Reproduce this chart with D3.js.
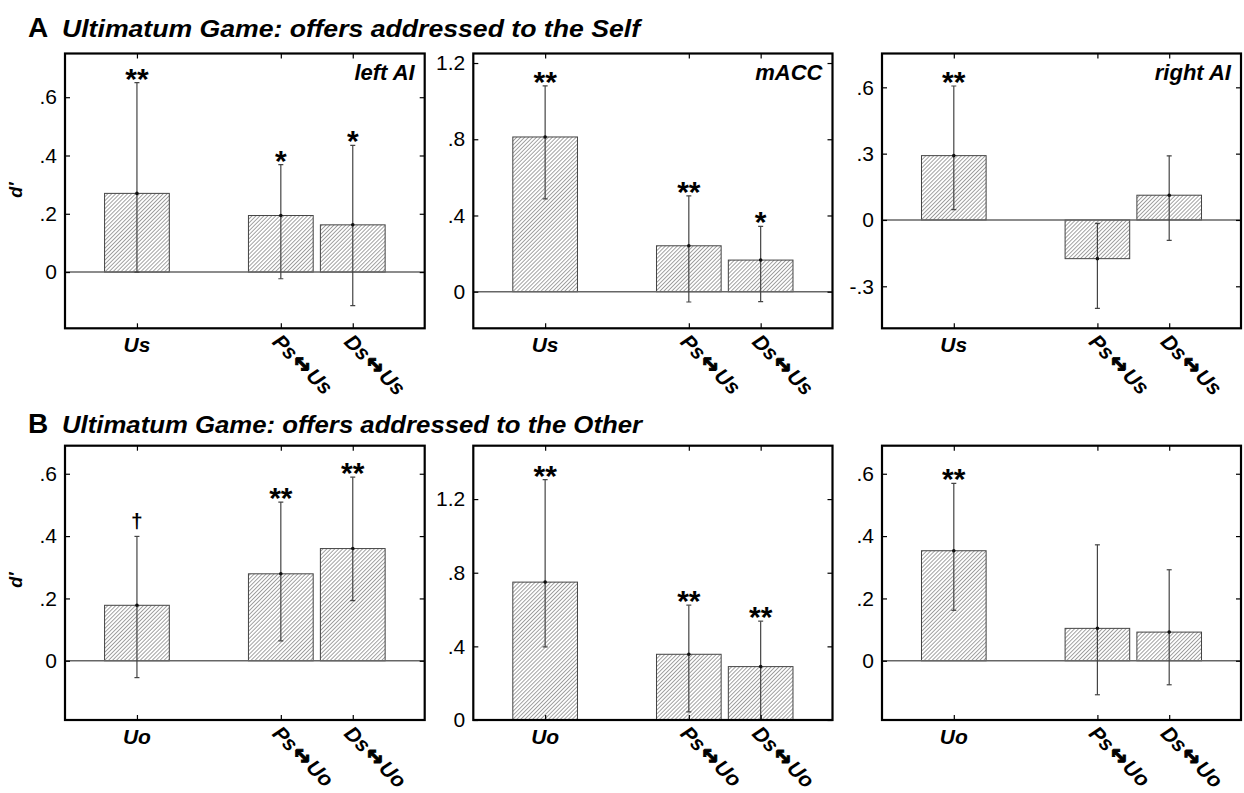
<!DOCTYPE html>
<html>
<head>
<meta charset="utf-8">
<script src="https://cdn.jsdelivr.net/npm/d3@7"></script>
<style>
  html, body { margin: 0; padding: 0; background: #fff; }
  svg { display: block; }
  text { font-family: Arial, "Liberation Sans", sans-serif; fill: #000; }
</style>
</head>
<body>
<svg id="chart" width="1244" height="793"></svg>
<script>
// ---- data ----
const regions = ["left AI", "mACC", "right AI"];
const catsSelf = ["Us", "Ps\u2194Us", "Ds\u2194Us"];
const catsOther = ["Uo", "Ps\u2194Uo", "Ds\u2194Uo"];
const catSlots = [1, 3, 4];

const selfMean = [[0.27, 0.194, 0.162], [0.812, 0.241, 0.166], [0.291, -0.175, 0.112]];
const selfLo   = [[0.0, -0.023, -0.115], [0.487, -0.054, -0.052], [0.047, -0.40, -0.092]];
const selfHi   = [[0.65, 0.369, 0.435], [1.08, 0.503, 0.343], [0.606, -0.015, 0.29]];
const selfSig  = [["**", "*", "*"], ["**", "**", "*"], ["**", "", ""]];

const otherMean = [[0.178, 0.279, 0.360], [0.749, 0.357, 0.29], [0.353, 0.104, 0.092]];
const otherLo   = [[-0.054, 0.064, 0.193], [0.397, 0.044, 0.0], [0.162, -0.109, -0.077]];
const otherHi   = [[0.399, 0.509, 0.589], [1.306, 0.624, 0.537], [0.569, 0.372, 0.292]];
const otherSig  = [["\u2020", "**", "**"], ["**", "**", "**"], ["**", "", ""]];

const selfLimits  = [[-0.193, 0.75], [-0.192, 1.25], [-0.49, 0.753]];
const otherLimits = [[-0.19, 0.69], [0, 1.49], [-0.19, 0.69]];
const selfTicks  = [[0, 0.2, 0.4, 0.6], [0, 0.4, 0.8, 1.2], [-0.3, 0, 0.3, 0.6]];
const otherTicks = [[0, 0.2, 0.4, 0.6], [0, 0.4, 0.8, 1.2], [0, 0.2, 0.4, 0.6]];

const rowTitles = ["Ultimatum Game: offers addressed to the Self", "Ultimatum Game: offers addressed to the Other"];
const rowLetters = ["A", "B"];

// ---- layout ----
const svg = d3.select("#chart");
const colX = [[65, 424.7], [473.3, 832.5], [882, 1241]];
const rowY = [[53.5, 328.3], [445.7, 720]];
const titleBase = [37, 433];
const titleWidth = [578, 580];

// hatch fill for the bars
const defs = svg.append("defs");
const pat = defs.append("pattern")
  .attr("id", "hatch").attr("patternUnits", "userSpaceOnUse")
  .attr("width", 2.8).attr("height", 2.8)
  .attr("patternTransform", "rotate(45)");
pat.append("rect").attr("width", 2.8).attr("height", 2.8).attr("fill", "#fff");
pat.append("line").attr("x1", 0).attr("y1", 0).attr("x2", 0).attr("y2", 2.8)
  .attr("stroke", "#666").attr("stroke-width", 1.2);

// axis numbers drop the leading zero: ".6", "-.3", "1.2"
const fmt = v => {
  if (v === 0) return "0";
  const s = String(+v.toFixed(2));
  return s.replace(/^(-?)0\./, "$1.");
};

const rows = [
  { cats: catsSelf, mean: selfMean, lo: selfLo, hi: selfHi, sig: selfSig, lim: selfLimits, ticks: selfTicks },
  { cats: catsOther, mean: otherMean, lo: otherLo, hi: otherHi, sig: otherSig, lim: otherLimits, ticks: otherTicks }
];

rows.forEach((row, r) => {
  // row heading
  svg.append("text").attr("x", 28).attr("y", titleBase[r])
    .style("font-weight", "bold").style("font-size", "28px")
    .text(rowLetters[r]);
  svg.append("text").attr("x", 62).attr("y", titleBase[r])
    .attr("textLength", titleWidth[r]).attr("lengthAdjust", "spacingAndGlyphs")
    .style("font-weight", "bold").style("font-style", "italic").style("font-size", "24px")
    .text(rowTitles[r]);

  // y-axis title
  const [yt, yb] = rowY[r];
  svg.append("text")
    .attr("transform", `translate(22,${r === 0 ? 190 : 580}) rotate(-90)`)
    .attr("text-anchor", "middle")
    .style("font-weight", "bold").style("font-style", "italic").style("font-size", "18px")
    .text("d\u2032");

  for (let c = 0; c < 3; c++) {
    const [xl, xr] = colX[c];
    const x = d3.scaleLinear().domain([0, 5]).range([xl, xr]);
    const y = d3.scaleLinear().domain(row.lim[c]).range([yb, yt]);
    const g = svg.append("g");
    const clipId = `clip-${r}-${c}`;
    defs.append("clipPath").attr("id", clipId)
      .append("rect").attr("x", xl).attr("y", yt).attr("width", xr - xl).attr("height", yb - yt);

    const data = catSlots.map((s, i) => ({
      slot: s, cat: row.cats[i], m: row.mean[c][i], lo: row.lo[c][i], hi: row.hi[c][i], sig: row.sig[c][i]
    }));
    const bw = x(0.9) - x(0);

    const plot = g.append("g").attr("clip-path", `url(#${clipId})`);

    // bars
    plot.selectAll("rect.bar").data(data).enter().append("rect")
      .attr("class", "bar")
      .attr("x", d => x(d.slot) - bw / 2)
      .attr("width", bw)
      .attr("y", d => Math.min(y(d.m), y(0)))
      .attr("height", d => Math.abs(y(d.m) - y(0)))
      .attr("fill", "url(#hatch)")
      .attr("stroke", "#444").attr("stroke-width", 1);

    // zero line
    plot.append("line")
      .attr("x1", xl).attr("x2", xr).attr("y1", y(0)).attr("y2", y(0))
      .attr("stroke", "#666").attr("stroke-width", 1.5);

    // error bars
    const eb = plot.selectAll("g.err").data(data).enter().append("g").attr("class", "err");
    eb.append("line")
      .attr("x1", d => x(d.slot)).attr("x2", d => x(d.slot))
      .attr("y1", d => y(d.lo)).attr("y2", d => y(d.hi))
      .attr("stroke", "#444").attr("stroke-width", 1.2);
    eb.append("line")
      .attr("x1", d => x(d.slot) - 2.5).attr("x2", d => x(d.slot) + 2.5)
      .attr("y1", d => y(d.hi)).attr("y2", d => y(d.hi))
      .attr("stroke", "#444").attr("stroke-width", 1.2);
    eb.append("line")
      .attr("x1", d => x(d.slot) - 2.5).attr("x2", d => x(d.slot) + 2.5)
      .attr("y1", d => y(d.lo)).attr("y2", d => y(d.lo))
      .attr("stroke", "#444").attr("stroke-width", 1.2);
    eb.append("circle")
      .attr("cx", d => x(d.slot)).attr("cy", d => y(d.m)).attr("r", 1.8).attr("fill", "#111");

    // significance markers
    g.selectAll("text.sig").data(data.filter(d => d.sig)).enter().append("text")
      .attr("class", "sig")
      .attr("x", d => x(d.slot))
      .attr("y", d => y(d.hi) - (d.sig === "\u2020" ? 8 : -6))
      .attr("text-anchor", "middle")
      .style("font-weight", "bold")
      .style("font-size", d => d.sig === "\u2020" ? "21px" : "30px")
      .text(d => d.sig);

    // axes: ticks inward on all four sides
    const ticks = row.ticks[c];
    const left = d3.axisLeft(y).tickValues(ticks).tickSize(-5).tickPadding(8).tickFormat(fmt);
    const right = d3.axisRight(y).tickValues(ticks).tickSize(-5).tickFormat("");
    const top = d3.axisTop(x).tickValues(catSlots).tickSize(-5).tickFormat("");
    const bottom = d3.axisBottom(x).tickValues(catSlots).tickSize(-5).tickFormat("");

    const ga = g.append("g").attr("transform", `translate(${xl},0)`).call(left);
    g.append("g").attr("transform", `translate(${xr},0)`).call(right);
    g.append("g").attr("transform", `translate(0,${yt})`).call(top);
    g.append("g").attr("transform", `translate(0,${yb})`).call(bottom);
    g.selectAll(".domain").remove();
    g.selectAll(".tick line").attr("stroke", "#000").attr("stroke-width", 1.2);
    ga.selectAll(".tick text")
      .style("font-family", "Arial, 'Liberation Sans', sans-serif")
      .style("font-size", "21px").attr("fill", "#000");

    // frame
    g.append("rect")
      .attr("x", xl).attr("y", yt).attr("width", xr - xl).attr("height", yb - yt)
      .attr("fill", "none").attr("stroke", "#000").attr("stroke-width", 2.2);

    // category labels
    data.forEach((d, i) => {
      if (i === 0) {
        g.append("text")
          .attr("x", x(d.slot)).attr("y", yb + 24)
          .attr("text-anchor", "middle")
          .style("font-weight", "bold").style("font-style", "italic").style("font-size", "21px")
          .text(d.cat);
      } else {
        const parts = d.cat.split("\u2194");
        const tx = g.append("text")
          .attr("transform", `translate(${x(d.slot) + 1},${yb + 4}) rotate(45)`)
          .attr("dy", "0.72em")
          .style("font-weight", "bold").style("font-style", "italic").style("font-size", "21px");
        tx.append("tspan").text(parts[0]);
        tx.append("tspan").text("\u2194").attr("dx", 1.5)
          .style("font-family", "'DejaVu Sans', sans-serif").style("font-style", "normal")
          .style("font-size", "23px")
          .attr("stroke", "#000").attr("stroke-width", 0.9);
        tx.append("tspan").text(parts[1]).attr("dx", 1.5);
      }
    });

    // region label (top row only)
    if (r === 0) {
      g.append("text")
        .attr("x", xr - 10).attr("y", yt + 26)
        .attr("text-anchor", "end")
        .style("font-weight", "bold").style("font-style", "italic").style("font-size", "22px")
        .text(regions[c]);
    }
  }
});
</script>
</body>
</html>
